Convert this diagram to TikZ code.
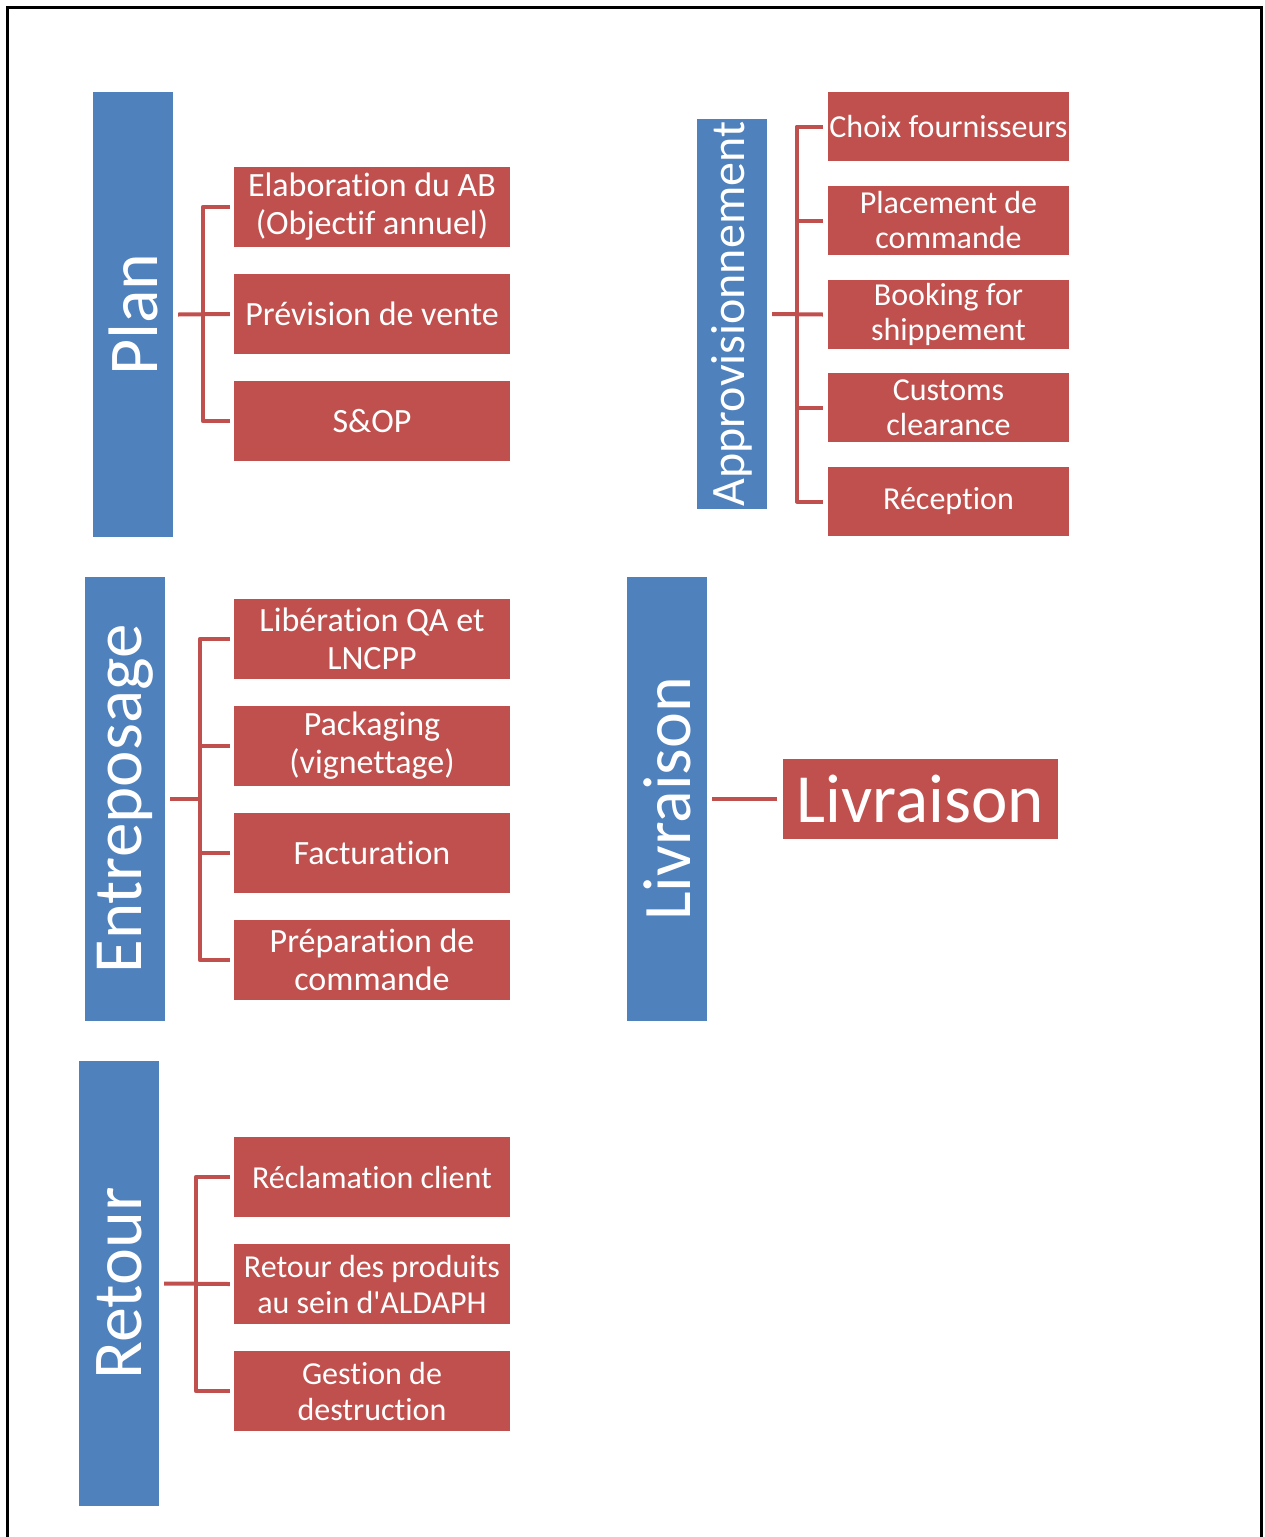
\documentclass[tikz,border=0pt]{standalone}
\usepackage{fontspec}
\setmainfont{Carlito}[Ligatures={NoCommon,TeXOff}]
\definecolor{stepred}{HTML}{C0504D}
\definecolor{phaseblue}{HTML}{4F81BD}
\begin{document}
\begin{tikzpicture}[x=1pt,y=-1pt,
  phase/.style={fill=phaseblue, text=white, inner sep=0, rotate=90,
    font=\fontsize{70}{76}\selectfont},
  stepbox/.style={fill=stepred, text=white, inner sep=0, align=center,
    minimum width=276, minimum height=80, font=\fontsize{34}{38}\selectfont},
  stepboxs/.style={stepbox, minimum width=241, minimum height=69,
    font=\fontsize{32}{35}\selectfont},
  stepboxr/.style={stepbox, font=\fontsize{32}{36}\selectfont},
  link/.style={draw=stepred, line width=4pt, line join=round}]

\useasboundingbox (0,0) rectangle (1264,1537);
% outer frame (open at the bottom)
\draw[line width=3pt] (7,1537) -- (7,7) -- (1261,7) -- (1261,1537);

% ---------- Plan ----------
\node[phase, minimum width=445, minimum height=80] (plan) at (133,314.5) {Plan};
\node[stepbox] (p1) at (372,207) {Elaboration du AB\\(Objectif annuel)};
\node[stepbox] (p2) at (372,314) {Prévision de vente};
\node[stepbox] (p3) at (372,421) {S\&OP};
\draw[link] ([xshift=5]plan.south) -- ([xshift=-4]p2.west);
\draw[link] ([xshift=-4]p1.west) -| ([xshift=-31]p3.west) -- ([xshift=-4]p3.west);

% ---------- Approvisionnement ----------
\node[phase, minimum width=390, minimum height=70,
  font=\fontsize{48}{54}\selectfont] (appro) at (732,314) {Approvisionnement};
\node[stepboxs] (a1) at (948.5,126.5) {Choix fournisseurs};
\node[stepboxs] (a2) at (948.5,220.5) {Placement de\\commande};
\node[stepboxs] (a3) at (948.5,314.5) {Booking for\\shippement};
\node[stepboxs] (a4) at (948.5,407.5) {Customs\\clearance};
\node[stepboxs] (a5) at (948.5,501.5) {Réception};
\draw[link] ([xshift=5]appro.south) -- ([xshift=-5]a3.west);
\draw[link] ([xshift=-5]a1.west) -| ([xshift=-31]a5.west) -- ([xshift=-5]a5.west);
\draw[link] ([xshift=-5]a2.west) -- ++(-26,0);
\draw[link] ([xshift=-5]a4.west) -- ++(-26,0);

% ---------- Entreposage ----------
\node[phase, minimum width=444, minimum height=80, font=\fontsize{69}{75}\selectfont]
  (entr) at (125,799) {Entreposage};
\node[stepbox] (e1) at (372,639) {Libération QA et\\LNCPP};
\node[stepbox] (e2) at (372,746) {Packaging\\(vignettage)};
\node[stepbox] (e3) at (372,853) {Facturation};
\node[stepbox] (e4) at (372,960) {Préparation de\\commande};
\draw[link] ([xshift=5]entr.south) -- (200,799);
\draw[link] ([xshift=-4]e1.west) -| ([xshift=-34]e4.west) -- ([xshift=-4]e4.west);
\draw[link] ([xshift=-4]e2.west) -- ++(-30,0);
\draw[link] ([xshift=-4]e3.west) -- ++(-30,0);

% ---------- Livraison ----------
\node[phase, minimum width=444, minimum height=80, font=\fontsize{68}{74}\selectfont]
  (livr) at (667,799) {Livraison};
\node[stepbox, minimum width=275, font=\fontsize{69}{74}\selectfont] (l1) at (920.5,799) {Livraison};
\draw[link] ([xshift=5]livr.south) -- ([xshift=-6]l1.west);

% ---------- Retour ----------
\node[phase, minimum width=445, minimum height=80] (ret) at (119,1283.5) {Retour};
\node[stepboxr] (r1) at (372,1177) {Réclamation client};
\node[stepboxr] (r2) at (372,1284) {Retour des produits\\au sein d'ALDAPH};
\node[stepboxr] (r3) at (372,1391) {Gestion de\\destruction};
\draw[link] ([xshift=5]ret.south) -- ([xshift=-4]r2.west);
\draw[link] ([xshift=-4]r1.west) -| ([xshift=-38]r3.west) -- ([xshift=-4]r3.west);

\end{tikzpicture}
\end{document}
